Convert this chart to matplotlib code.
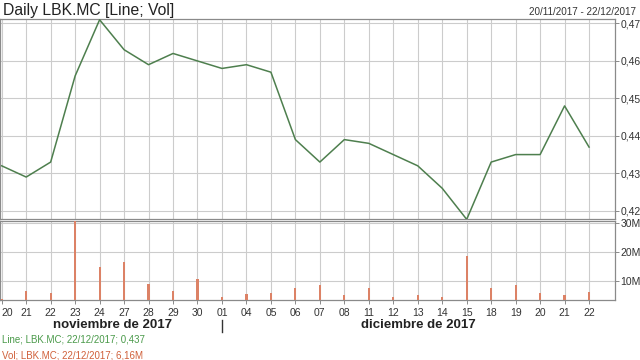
import matplotlib
matplotlib.use("Agg")
from matplotlib import pyplot as plt
from matplotlib.lines import Line2D

# Daily LBK.MC, 20/11/2017 - 22/12/2017
day_labels = ["20", "21", "22", "23", "24", "27", "28", "29", "30", "01", "04", "05",
              "06", "07", "08", "11", "12", "13", "14", "15", "18", "19", "20", "21", "22"]
close = [0.432, 0.429, 0.433, 0.456, 0.471, 0.463, 0.459, 0.462, 0.460, 0.458, 0.459, 0.457,
         0.439, 0.433, 0.439, 0.438, 0.435, 0.432, 0.426, 0.4177, 0.433, 0.435, 0.435, 0.448, 0.437]
volume_m = [3.6, 6.5, 5.6, 30.9, 14.6, 16.3, 8.7, 6.5, 10.6, 4.3, 5.4, 5.6,
            7.6, 8.5, 5.1, 7.6, 4.3, 5.1, 4.3, 18.6, 7.6, 8.5, 5.9, 5.1, 6.16]
price_ticks = [0.42, 0.43, 0.44, 0.45, 0.46, 0.47]
vol_ticks = [10, 20, 30]

plt.rcParams["font.family"] = ["Liberation Sans", "DejaVu Sans"]

W, H = 640, 360
fig = plt.figure(figsize=(6.4, 3.6), dpi=100)
fig.patch.set_facecolor("white")

ax = fig.add_axes([0 / W, 1 - 219 / H, 615 / W, (219 - 19) / H])
axv = fig.add_axes([0 / W, 1 - 300 / H, 615 / W, (300 - 221) / H], sharex=ax)

x = list(range(len(day_labels)))
grid_c = "#cccccc"
frame_c = "#8a8a8a"

ax.plot(x, close, color="#4e7f4e", lw=1.1, zorder=3)
ax.set_ylim(0.4178, 0.4712)
ax.set_yticks(price_ticks)
ax.set_yticklabels([f"{v:.2f}".replace(".", ",") for v in price_ticks])

axv.bar(x, volume_m, width=0.09, color="#dc8266", zorder=3)
axv.set_ylim(3.34, 30.6)
axv.set_yticks(vol_ticks)
axv.set_yticklabels([f"{v}M" for v in vol_ticks])

axv.set_xlim(-0.07, 25.06)
axv.set_xticks(x)
axv.set_xticklabels(day_labels)

for a in (ax, axv):
    a.yaxis.tick_right()
    a.tick_params(axis="y", length=3, width=0.7, color=frame_c, labelsize=7.5,
                  labelcolor="#333333", pad=1)
    a.grid(True, color=grid_c, lw=0.8, zorder=0)
    a.set_axisbelow(True)
    for s in a.spines.values():
        s.set_color(frame_c)
        s.set_linewidth(0.9)
    a.set_facecolor("white")

ax.tick_params(axis="x", length=0, labelbottom=False)
axv.tick_params(axis="x", length=3, width=0.7, color=frame_c, labelsize=7.5,
                labelcolor="#333333", pad=2.5)
axv.get_xticklabels()[0].set_horizontalalignment("left")

# month labels
fig.text(113 / W, 1 - 325 / H, "noviembre de 2017", ha="center", va="center",
         fontsize=9.5, fontweight="bold", color="#222222")
fig.text(418 / W, 1 - 325 / H, "diciembre de 2017", ha="center", va="center",
         fontsize=9.5, fontweight="bold", color="#222222")
fig.add_artist(Line2D([222 / W, 222 / W], [1 - 320 / H, 1 - 332 / H],
                      transform=fig.transFigure, color="#333333", lw=1))

# title and range
fig.text(3 / W, 1 - 10 / H, "Daily LBK.MC [Line; Vol]", ha="left", va="center",
         fontsize=11.3, color="#222222")
fig.text(636 / W, 1 - 12 / H, "20/11/2017 - 22/12/2017", ha="right", va="center",
         fontsize=7.1, color="#333333")

# legend lines
fig.text(2 / W, 1 - 340 / H, "Line; LBK.MC; 22/12/2017; 0,437", ha="left", va="center",
         fontsize=7, color="#4a9a4a")
fig.text(2 / W, 1 - 355 / H, "Vol; LBK.MC; 22/12/2017; 6,16M", ha="left", va="center",
         fontsize=7, color="#d0603a")

fig.savefig("out.png", dpi=100)
